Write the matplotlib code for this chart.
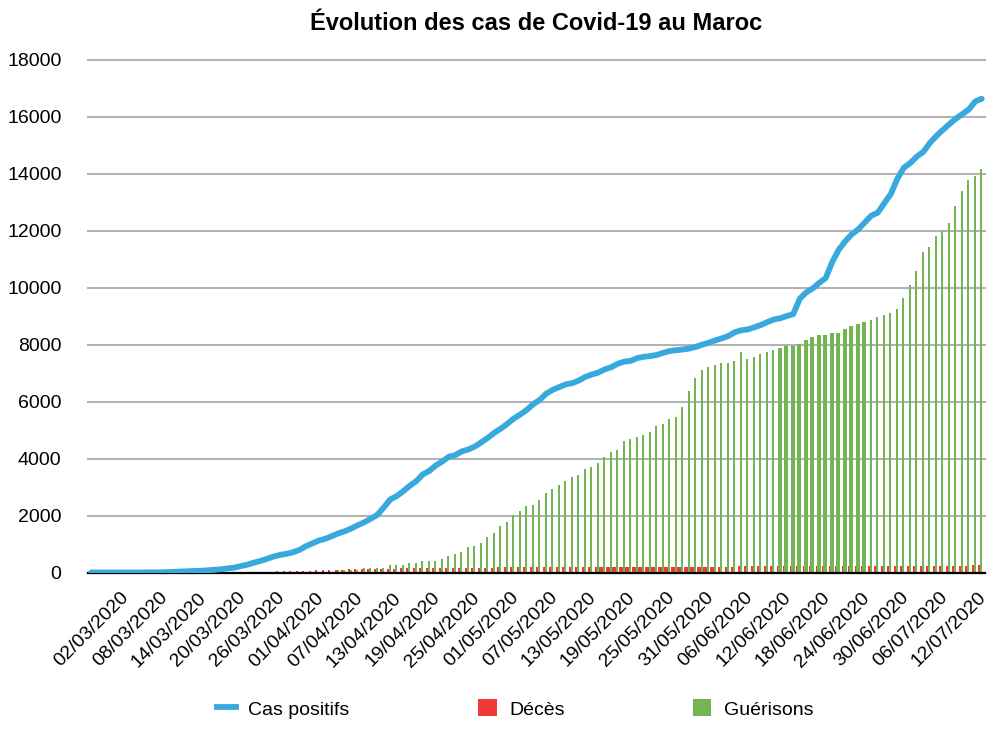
import matplotlib
matplotlib.use('Agg')
import matplotlib.pyplot as plt
from matplotlib.lines import Line2D
from matplotlib.patches import Patch
import numpy as np
import pandas as pd

plt.rcParams['font.family'] = ['Liberation Sans', 'DejaVu Sans']

title = "Évolution des cas de Covid-19 au Maroc"
series_names = ["Cas positifs", "Décès", "Guérisons"]
start_date = "2020-03-02"

cas_positifs = [
    1, 1, 1, 2, 2, 2, 2, 2, 2, 5,
    6, 7, 17, 28, 37, 44, 54, 63, 79, 96,
    115, 143, 170, 225, 275, 345, 402, 479, 556, 617,
    654, 708, 791, 919, 1021, 1120, 1184, 1275, 1374, 1448,
    1545, 1661, 1763, 1888, 2024, 2283, 2564, 2685, 2855, 3046,
    3209, 3446, 3568, 3758, 3897, 4065, 4120, 4252, 4321, 4423,
    4569, 4729, 4903, 5053, 5219, 5408, 5548, 5711, 5910, 6063,
    6281, 6418, 6512, 6607, 6652, 6741, 6870, 6952, 7023, 7133,
    7211, 7332, 7406, 7433, 7532, 7577, 7601, 7643, 7714, 7780,
    7807, 7833, 7866, 7922, 8003, 8071, 8151, 8224, 8302, 8437,
    8508, 8537, 8610, 8692, 8793, 8885, 8931, 9006, 9074, 9613,
    9839, 9977, 10172, 10344, 10907, 11338, 11633, 11877, 12052, 12290,
    12533, 12636, 12969, 13288, 13822, 14215, 14379, 14607, 14771, 15079,
    15328, 15542, 15745, 15936, 16097, 16262, 16545, 16640,
]

deces = [
    0, 0, 0, 0, 0, 0, 0, 0, 1, 1,
    1, 1, 1, 1, 1, 2, 2, 2, 3, 3,
    4, 4, 5, 6, 10, 23, 25, 26, 33, 36,
    39, 44, 48, 59, 70, 80, 90, 93, 97, 105,
    110, 118, 126, 126, 127, 130, 135, 137, 141, 143,
    145, 149, 155, 159, 159, 161, 162, 165, 168, 170,
    171, 174, 174, 179, 181, 181, 183, 186, 186, 188,
    188, 188, 188, 190, 190, 192, 192, 192, 193, 196,
    197, 198, 199, 199, 200, 202, 202, 202, 202, 204,
    205, 205, 206, 206, 208, 208, 208, 208, 208, 210,
    211, 211, 212, 212, 212, 212, 212, 213, 213, 213,
    213, 213, 214, 214, 214, 216, 217, 217, 218, 218,
    218, 219, 220, 220, 221, 222, 222, 223, 224, 225,
    225, 226, 226, 227, 228, 228, 263, 268,
]

guerisons = [
    0, 0, 0, 0, 0, 0, 0, 0, 0, 0,
    0, 0, 0, 0, 0, 0, 0, 0, 0, 0,
    0, 0, 0, 0, 0, 0, 0, 0, 0, 0,
    0, 0, 0, 0, 0, 0, 0, 0, 94, 94,
    94, 94, 170, 170, 170, 165, 246, 246, 246, 335,
    335, 410, 410, 410, 485, 562, 644, 714, 889, 948,
    1030, 1264, 1392, 1626, 1790, 2012, 2176, 2328, 2375, 2551,
    2785, 2937, 3089, 3229, 3370, 3440, 3639, 3697, 3838, 4072,
    4235, 4306, 4633, 4692, 4750, 4838, 4920, 5136, 5218, 5382,
    5452, 5827, 6377, 6821, 7125, 7207, 7289, 7359, 7359, 7430,
    7734, 7500, 7582, 7664, 7734, 7816, 7886, 7956, 7956, 8026,
    8178, 8260, 8330, 8330, 8412, 8412, 8564, 8658, 8728, 8798,
    8869, 8986, 9032, 9103, 9260, 9641, 10109, 10577, 11244, 11419,
    11805, 12004, 12262, 12870, 13385, 13794, 13935, 14169,
]

n = len(cas_positifs)
idx = np.arange(n)
dates = pd.date_range(start_date, periods=n).strftime('%d/%m/%Y')

c_blue = '#38a9dc'
c_red = '#ee3a35'
c_green = '#72b552'

# per-bar widths (render appearance)
red_w = np.full(n, 0.28)
red_w[79:97] = 0.9
green_w = np.full(n, 0.30)
green_w[106:120] = 0.62

fig = plt.figure(figsize=(10, 7.36), dpi=100)
ax = fig.add_axes([0.088, 1 - 572.5 / 736, 0.897, (572.5 - 60) / 736])

ax.bar(idx - 0.40, deces, width=red_w, color=c_red, zorder=1, linewidth=0)
ax.bar(idx - 0.06, guerisons, width=green_w, color=c_green, zorder=1.2, linewidth=0)
ax.plot(idx, cas_positifs, color=c_blue, linewidth=4.2, solid_joinstyle='round',
        solid_capstyle='round', zorder=3)

ax.set_xlim(-0.5, n - 0.5)
ax.set_ylim(0, 18000)
ax.set_yticks(range(0, 18001, 2000))
ax.yaxis.grid(True, color='#b3b3b3', linewidth=1.5)
for gl in ax.yaxis.get_gridlines():
    gl.set_clip_on(False)
ax.set_axisbelow(True)
for s in ['top', 'right', 'left']:
    ax.spines[s].set_visible(False)
ax.spines['bottom'].set_color('black')
ax.spines['bottom'].set_linewidth(1.6)
ax.spines['bottom'].set_zorder(2.5)

ax.tick_params(axis='y', length=0, pad=19, labelsize=14)
ax.set_xticks(idx[::6])
ax.set_xticklabels(dates[::6], rotation=45, ha='center', va='top')
ax.tick_params(axis='x', length=0, pad=12, labelsize=14)

fig.text(0.5365, 1 - 23 / 736, title, ha='center', va='center',
         fontsize=17, fontweight='bold')

handles = [
    Line2D([0], [0], color=c_blue, linewidth=4.2),
    Patch(facecolor=c_red, edgecolor='none'),
    Patch(facecolor=c_green, edgecolor='none'),
]
fig.legend(handles, series_names, loc='center', bbox_to_anchor=(0.5155, 1 - 709 / 736),
           ncol=3, frameon=False, fontsize=14, handlelength=0.95, handleheight=0.95,
           handletextpad=0.65, columnspacing=6.6)

fig.savefig('out.png', dpi=100)
